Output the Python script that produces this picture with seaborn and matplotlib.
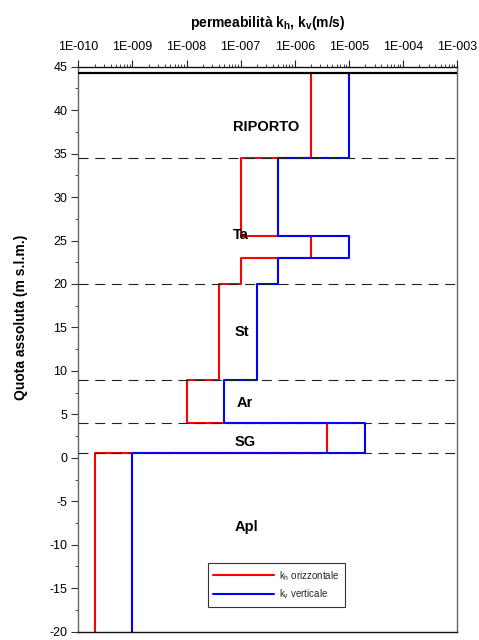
import numpy as np
import pandas as pd
import matplotlib
matplotlib.use("Agg")
import matplotlib.pyplot as plt
from matplotlib.ticker import LogLocator, FuncFormatter, MultipleLocator, NullFormatter
import seaborn as sns

# Layer boundaries (m s.l.m.), from ground level down
boundaries = [44.3, 34.5, 25.5, 23.0, 20.0, 9.0, 4.0, 0.5, -20.0]
# Permeability per layer (m/s)
kh = [2e-6, 1e-7, 2e-6, 1e-7, 4e-8, 1e-8, 4e-6, 2e-10]
kv = [1e-5, 5e-7, 1e-5, 5e-7, 2e-7, 5e-8, 2e-5, 1e-9]
series_names = ["k$_\\mathregular{h}$ orizzontale", "k$_\\mathregular{v}$ verticale"]
series_colors = ["#ff0000", "#0000ff"]

# Stratigraphic units and label positions (k, quota)
unit_names = ["RIPORTO", "Ta", "St", "Ar", "SG", "Apl"]
unit_k = [3.0e-7, 1.0e-7, 1.05e-7, 1.2e-7, 1.2e-7, 1.3e-7]
unit_z = [38.1, 25.6, 14.5, 6.3, 1.8, -7.9]

# Dashed lines separating the units
unit_limits = [34.5, 20.0, 9.0, 4.0, 0.5]
ground_level = 44.3

xtick_exp = list(range(-10, -2))


def step_profile(values, name):
    rows = []
    for i, k in enumerate(values):
        rows.append((k, boundaries[i], name, 2 * i))
        rows.append((k, boundaries[i + 1], name, 2 * i + 1))
    return pd.DataFrame(rows, columns=["k", "quota", "serie", "ordine"])


df = pd.concat([step_profile(kh, series_names[0]), step_profile(kv, series_names[1])],
               ignore_index=True)

sns.set_style("white")
plt.rcParams["font.family"] = ["Liberation Sans", "DejaVu Sans"]
plt.rcParams["mathtext.default"] = "regular"
plt.rcParams["axes.unicode_minus"] = False

fig = plt.figure(figsize=(4.79, 6.40), dpi=100)
ax = fig.add_axes([0.1635, 0.013, 0.7905, 0.8828])

sns.lineplot(data=df, x="k", y="quota", hue="serie", palette=series_colors,
             sort=False, estimator=None, units="serie", linewidth=1.5, ax=ax,
             legend=True)

ax.set_xscale("log")
ax.set_xlim(1e-10, 1e-3)
ax.set_ylim(-20, 45)

for z in unit_limits:
    ax.axhline(z, color="#222222", linewidth=0.8, linestyle=(0, (9, 6)), zorder=5)
ax.axhline(ground_level, color="black", linewidth=1.6, zorder=6)

for name, k, z in zip(unit_names, unit_k, unit_z):
    ax.text(k, z, name, ha="center", va="center", fontsize=10.5, fontweight="bold",
            color="black", zorder=7)

# Top axis with exponent labels
ax.xaxis.set_ticks_position("top")
ax.xaxis.set_label_position("top")
ax.set_xticks([10.0 ** e for e in xtick_exp])
ax.xaxis.set_major_formatter(FuncFormatter(lambda v, p: "1E-%03d" % round(-np.log10(v))))
ax.xaxis.set_minor_locator(LogLocator(base=10, subs=np.arange(2, 10), numticks=20))
ax.xaxis.set_minor_formatter(NullFormatter())
ax.tick_params(axis="x", which="major", direction="out", length=5, width=0.8,
               labelsize=9, pad=4.5, colors="#222222", labelcolor="black")
ax.tick_params(axis="x", which="minor", direction="out", length=2.5, width=0.6,
               colors="#222222")

ax.yaxis.set_major_locator(MultipleLocator(5))
ax.yaxis.set_minor_locator(MultipleLocator(2.5))
ax.tick_params(axis="y", which="major", direction="out", length=5, width=0.8,
               labelsize=9, pad=3, left=True, colors="#333333", labelcolor="black")
ax.tick_params(axis="y", which="minor", direction="out", length=2.5, width=0.6,
               left=True, colors="#333333")

ax.set_xlabel("permeabilità k$_\\mathregular{h}$, k$_\\mathregular{v}$(m/s)",
              fontsize=10, fontweight="bold", labelpad=10.5, color="black")
ax.set_ylabel("Quota assoluta (m s.l.m.)", fontsize=10, fontweight="bold", color="black")
ax.yaxis.set_label_coords(-0.133, 0.557)

for side in ["left", "right"]:
    ax.spines[side].set_color("#666666")
    ax.spines[side].set_linewidth(1.0)
for side in ["top", "bottom"]:
    ax.spines[side].set_color("#111111")
    ax.spines[side].set_linewidth(1.0)

leg = ax.legend(loc="lower left", bbox_to_anchor=(0.3285, 0.035), fontsize=7,
                frameon=True, fancybox=False, edgecolor="#333333", framealpha=1,
                handlelength=6.2, handletextpad=0.5, borderpad=0.6,
                labelspacing=0.5, title=None)
leg.get_frame().set_linewidth(0.8)
for line in leg.get_lines():
    line.set_linewidth(1.5)

fig.savefig("out.png", dpi=100)
